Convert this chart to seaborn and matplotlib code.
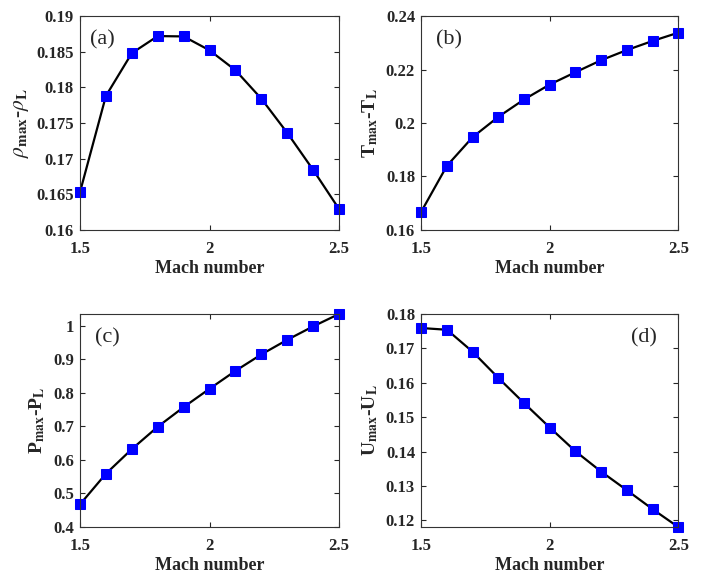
import numpy as np
import pandas as pd
import matplotlib
matplotlib.use("Agg")
import matplotlib.pyplot as plt
from matplotlib.ticker import FuncFormatter
import seaborn as sns

# ------------------------------
# Data
# ------------------------------
mach = [1.5, 1.6, 1.7, 1.8, 1.9, 2.0, 2.1, 2.2, 2.3, 2.4, 2.5]
rho_diff = [0.1653, 0.1788, 0.1848, 0.1872, 0.18715, 0.1852, 0.1824, 0.1784, 0.1736, 0.1684, 0.1629]
T_diff = [0.1668, 0.1840, 0.1947, 0.2023, 0.2088, 0.2144, 0.2190, 0.2235, 0.2273, 0.2307, 0.2338]
P_diff = [0.4675, 0.5587, 0.6320, 0.6986, 0.7570, 0.8117, 0.8650, 0.9140, 0.9575, 0.9975, 1.0345]
U_diff = [0.1759, 0.1754, 0.1690, 0.1614, 0.1541, 0.1470, 0.1401, 0.1342, 0.1288, 0.1233, 0.1181]

panels = ["(a)", "(b)", "(c)", "(d)"]
ylabels = [r"$\rho_{\mathbf{max}}$-$\rho_{\mathbf{L}}$",
           r"T$_{\mathbf{max}}$-T$_{\mathbf{L}}$",
           r"P$_{\mathbf{max}}$-P$_{\mathbf{L}}$",
           r"U$_{\mathbf{max}}$-U$_{\mathbf{L}}$"]
yticks = [np.arange(0.16, 0.1901, 0.005),
          np.arange(0.16, 0.2401, 0.02),
          np.arange(0.4, 1.001, 0.1),
          np.arange(0.12, 0.1801, 0.01)]
ylims = [(0.16, 0.19), (0.16, 0.24), (0.4, 1.0345), (0.1181, 0.18)]

# ------------------------------
# Style
# ------------------------------
sns.set_theme(style="ticks")
plt.rcParams["font.family"] = ["Liberation Serif", "DejaVu Serif"]
plt.rcParams["mathtext.fontset"] = "stix"
plt.rcParams["xtick.direction"] = "in"
plt.rcParams["ytick.direction"] = "in"
plt.rcParams["axes.edgecolor"] = "#333333"

fig = plt.figure(figsize=(7.08, 5.76), dpi=100)
positions = [[0.113, 0.601, 0.366, 0.371],
             [0.595, 0.601, 0.363, 0.371],
             [0.113, 0.085, 0.366, 0.370],
             [0.595, 0.085, 0.363, 0.370]]
label_xy = [(0.04, 0.89), (0.058, 0.89), (0.058, 0.89), (0.815, 0.89)]
ylabel_size = [15.5, 14, 14, 14]

data = pd.DataFrame({"mach": mach, "rho": rho_diff, "T": T_diff, "P": P_diff, "U": U_diff})
cols = ["rho", "T", "P", "U"]

fmt = FuncFormatter(lambda v, pos: "%g" % round(v, 4))

for i, col in enumerate(cols):
    ax = fig.add_axes(positions[i])
    sns.lineplot(data=data, x="mach", y=col, ax=ax, color="black", linewidth=1.6,
                 marker="s", markersize=7.5, markerfacecolor="blue",
                 markeredgecolor="blue", clip_on=False)
    ax.set_xlim(1.5, 2.5)
    ax.set_ylim(*ylims[i])
    ax.set_xticks([1.5, 2, 2.5])
    ax.set_yticks(yticks[i])
    ax.xaxis.set_major_formatter(fmt)
    ax.yaxis.set_major_formatter(fmt)
    ax.tick_params(top=True, right=True, length=3.5, width=0.8, labelsize=12)
    ax.tick_params(axis="x", pad=8)
    ax.tick_params(axis="y", pad=4.5)
    for lab in ax.get_xticklabels() + ax.get_yticklabels():
        lab.set_fontweight("bold")
    for s in ax.spines.values():
        s.set_linewidth(0.8)
    ax.set_xlabel("Mach number", fontsize=13, fontweight="bold", labelpad=2)
    ax.set_ylabel(ylabels[i], fontsize=ylabel_size[i], fontweight="bold", labelpad=4)
    ax.text(label_xy[i][0], label_xy[i][1], panels[i], transform=ax.transAxes,
            fontsize=16, va="center", ha="left")

plt.savefig("out.png", dpi=100)
